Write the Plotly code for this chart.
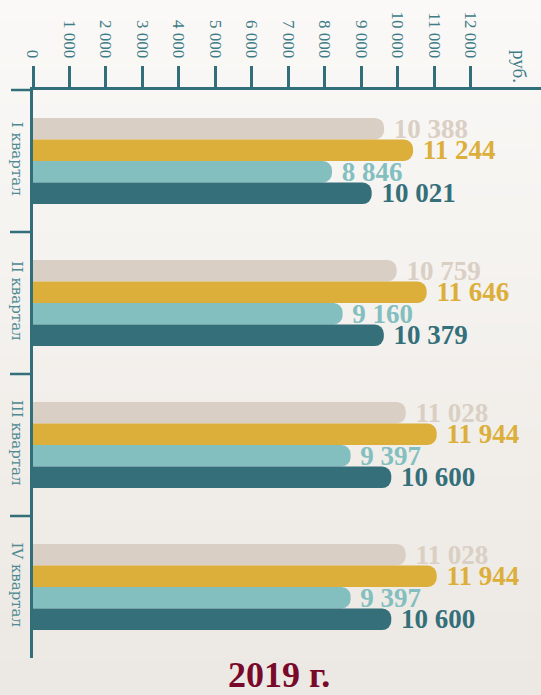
import plotly.graph_objects as go

quarters = ["I квартал", "II квартал", "III квартал", "IV квартал"]
series_a = [10388, 10759, 11028, 11028]   # light beige
series_b = [11244, 11646, 11944, 11944]   # gold
series_c = [8846, 9160, 9397, 9397]       # light teal
series_d = [10021, 10379, 10600, 10600]   # dark teal
tick_values = list(range(0, 13000, 1000))
title_text = "2019 г."
unit_text = "руб."

colors = ["#dacfc4", "#dcae3a", "#84bfc0", "#346f7a"]
axis_color = "#336f7a"
tick_font_color = "#3e7c86"
serif = "Liberation Serif, DejaVu Serif, serif"

W, H = 541, 695
ml, mr, mt, mb = 33, 0, 90, 37
plot_w = W - ml - mr
plot_h = H - mt - mb


def px_x(px):
    return (px - ml) / plot_w


def px_y(py):
    return (H - mb - py) / plot_h


fig = go.Figure()

# gradient background bands
n_bands = 60
top_rgb = (250, 249, 247)
bot_rgb = (236, 232, 227)
y_top = px_y(0)
y_bot = px_y(H)
for i in range(n_bands):
    t = i / (n_bands - 1)
    r = round(top_rgb[0] + (bot_rgb[0] - top_rgb[0]) * t)
    g = round(top_rgb[1] + (bot_rgb[1] - top_rgb[1]) * t)
    b = round(top_rgb[2] + (bot_rgb[2] - top_rgb[2]) * t)
    y1 = y_top - (y_top - y_bot) * i / n_bands
    y0 = y_top - (y_top - y_bot) * (i + 1) / n_bands
    fig.add_shape(type="rect", xref="paper", yref="paper",
                  x0=px_x(-5), x1=px_x(W + 5), y0=y0 - 0.001, y1=y1 + 0.001,
                  fillcolor=f"rgb({r},{g},{b})", line_width=0, layer="below")

# invisible anchor trace so the tick axis is drawn
fig.add_trace(go.Scatter(x=[tick_values[0], tick_values[-1]], y=[quarters[0], quarters[0]],
                         xaxis="x", yaxis="y", mode="markers",
                         marker=dict(opacity=0), hoverinfo="skip", showlegend=False))

for vals, col in zip([series_a, series_b, series_c, series_d], colors):
    fig.add_trace(go.Bar(
        x=vals, y=quarters, orientation="h", xaxis="x2", yaxis="y",
        marker=dict(color=col, cornerradius=9, line_width=0),
        texttemplate=" %{x:,d}", textposition="outside", constraintext="none",
        cliponaxis=False,
        outsidetextfont=dict(family=serif, size=27, color=col, weight="bold"),
        hoverinfo="skip", showlegend=False,
    ))

# category separators
for yv in [0.5, 1.5, 2.5]:
    fig.add_shape(type="line", xref="paper", yref="y",
                  x0=px_x(10), x1=0, y0=yv, y1=yv,
                  line=dict(color=axis_color, width=2.5))
# extension of the top axis line to the left
fig.add_shape(type="line", xref="paper", yref="paper",
              x0=px_x(11), x1=0, y0=1, y1=1,
              line=dict(color=axis_color, width=2.5))

fig.add_annotation(text=unit_text, xref="paper", yref="paper",
                   x=px_x(520), y=px_y(66), xanchor="center", yanchor="middle",
                   textangle=90, showarrow=False,
                   font=dict(family=serif, size=19, color=tick_font_color))
fig.add_annotation(text=title_text, xref="paper", yref="paper",
                   x=px_x(279), y=px_y(675),
                   showarrow=False, xanchor="center", yanchor="middle",
                   font=dict(family=serif, size=36, color="#78092a", weight="bold"))

fig.update_layout(
    width=W, height=H,
    margin=dict(l=ml, r=mr, t=mt, b=mb, pad=0),
    paper_bgcolor="#f4f1ed", plot_bgcolor="rgba(0,0,0,0)",
    separators=", ",
    barmode="group", bargap=0.394, bargroupgap=0,
    xaxis=dict(
        side="top", range=[0, 13930], tickvals=tick_values, tickformat=",d",
        tickangle=90, ticks="outside", ticklen=21, tickwidth=2.5, tickcolor=axis_color,
        showline=True, linecolor=axis_color, linewidth=2.5,
        showgrid=False, zeroline=False, ticklabelstandoff=2,
        tickfont=dict(family=serif, size=17, color=tick_font_color),
        fixedrange=True,
    ),
    xaxis2=dict(overlaying="x", anchor="y", range=[0, 15030], visible=False,
                fixedrange=True),
    yaxis=dict(
        type="category", categoryorder="array", categoryarray=quarters,
        range=[3.5, -0.5], showline=True, linecolor=axis_color, linewidth=2.5,
        ticks="", tickangle=90, showgrid=False, zeroline=False,
        tickfont=dict(family="DejaVu Serif, serif", size=15, color="#4d8a92"),
        fixedrange=True,
    ),
)

fig.write_html("out.html", config={"displayModeBar": False},
               post_script="document.body.style.margin='0';document.body.style.padding='0';")
